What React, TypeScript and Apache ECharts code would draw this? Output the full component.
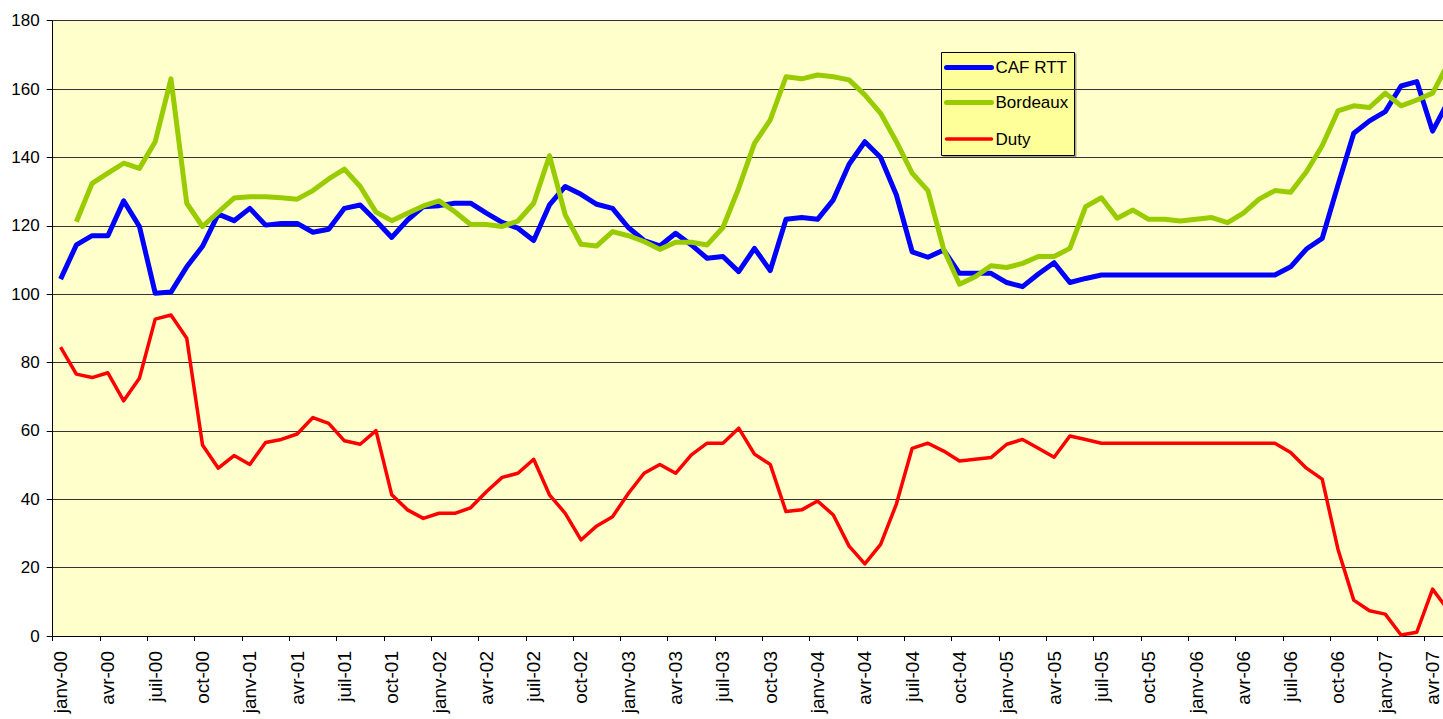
import React, { useEffect, useRef } from "react";
import * as echarts from "echarts";

const MONTHS = ["janv", "févr", "mars", "avr", "mai", "juin", "juil", "août", "sept", "oct", "nov", "déc"];
const YEARS = ["00", "01", "02", "03", "04", "05", "06", "07"];
const MONTHS_IN_LAST_YEAR = 5; // janv-07 .. mai-07

const categories: string[] = [];
YEARS.forEach((y, yi) => {
  const n = yi === YEARS.length - 1 ? MONTHS_IN_LAST_YEAR : 12;
  for (let m = 0; m < n; m++) categories.push(`${MONTHS[m]}-${y}`);
});

const cafRtt = [
  104.4, 114.4, 117.1, 117.1, 127.3, 119.8, 100.3, 100.6, 108, 114, 123.4, 121.5,
  125.1, 120.2, 120.7, 120.7, 118.1, 119, 125.1, 126.1, 121.5, 116.6, 121.7, 125.6,
  125.9, 126.6, 126.6, 123.7, 121, 119.3, 115.7, 126.1, 131.5, 129.2, 126.3, 125.1,
  119.5, 115.7, 114.1, 117.8, 114.4, 110.5, 111, 106.6, 113.4, 106.9, 121.9, 122.4,
  121.9, 127.6, 138, 144.6, 140, 129, 112.4, 110.8, 112.9, 106.1, 106.1, 106.1,
  103.4, 102.2, 105.9, 109.2, 103.4, 104.6, 105.6, 105.6, 105.6, 105.6, 105.6, 105.6,
  105.6, 105.6, 105.6, 105.6, 105.6, 105.6, 108, 113.2, 116.3, 131.9, 147.1, 150.7,
  153.4, 160.9, 162.2, 147.7, 156.4,
];

const bordeaux = [
  null, 121.2, 132.4, 135.4, 138.3, 136.8, 144.6, 163, 126.6, 119.8, 124, 128.1,
  128.5, 128.5, 128.2, 127.8, 130.3, 133.7, 136.6, 131.5, 124, 121.5, 123.7, 125.8,
  127.3, 124.1, 120.4, 120.4, 119.8, 121.4, 126.6, 140.5, 123.2, 114.6, 114.1, 118.3,
  117.1, 115.4, 113.1, 115.2, 115.2, 114.4, 119.5, 131, 144.1, 151, 163.6, 163,
  164.1, 163.6, 162.7, 158.3, 152.9, 144.6, 135.4, 130.3, 113.1, 102.9, 105.1, 108.3,
  107.8, 109, 111, 111, 113.4, 125.6, 128.2, 122.2, 124.6, 121.9, 121.9, 121.4,
  121.9, 122.4, 120.9, 123.7, 127.8, 130.3, 129.8, 135.8, 143.4, 153.6, 155.1, 154.6,
  158.8, 155.1, 156.8, 158.8, 167.6,
];

const duty = [
  84.5, 76.6, 75.6, 77, 68.8, 75.4, 92.7, 93.9, 87.1, 55.9, 49.1, 52.8,
  50.2, 56.6, 57.5, 59.1, 63.9, 62.2, 57.1, 56.1, 60.1, 41.3, 36.9, 34.4,
  35.9, 35.9, 37.5, 42.2, 46.4, 47.6, 51.7, 41.3, 35.9, 28.1, 32.2, 34.9,
  41.7, 47.6, 50.2, 47.6, 53, 56.4, 56.4, 60.8, 53.2, 50.2, 36.4, 36.9,
  39.5, 35.4, 26.3, 21.1, 26.8, 38.6, 54.9, 56.4, 54.1, 51.2, 51.7, 52.2,
  56.1, 57.5, 54.9, 52.3, 58.5, 57.5, 56.4, 56.4, 56.4, 56.4, 56.4, 56.4,
  56.4, 56.4, 56.4, 56.4, 56.4, 56.4, 53.7, 49.1, 45.9, 25.4, 10.5, 7.4,
  6.4, 0.3, 1.1, 13.7, 7.5,
];

const SERIES_NAMES = ["CAF RTT", "Bordeaux", "Duty"];
const SERIES_COLORS = ["#0000FF", "#99CC00", "#FF0000"];
const SERIES_WIDTHS = [5, 5, 3.5];
const Y_MIN = 0;
const Y_MAX = 180;
const Y_STEP = 20;

const CHART_W = 1470;
const CHART_H = 740;
const FONT = "'Liberation Sans', Arial, sans-serif";

export default function App() {
  const ref = useRef<HTMLDivElement>(null);

  useEffect(() => {
    if (!ref.current) return;
    const chart = echarts.init(ref.current, null, { renderer: "svg" });
    const gridLeft = 52.7;
    const gridTop = 20.7;
    const gridBottomY = 636;
    const band = 15.77;
    const gridRightX = gridLeft + band * categories.length;

    const legendRows = [15, 50, 86.5];
    const legendChildren: any[] = [
      {
        type: "rect",
        shape: { x: 0, y: 0, width: 133, height: 103 },
        style: {
          fill: "#FFFF99",
          stroke: "#000",
          lineWidth: 1,
          shadowColor: "rgba(0,0,0,0.35)",
          shadowOffsetX: 1.5,
          shadowOffsetY: 1.5,
          shadowBlur: 0,
        },
      },
    ];
    SERIES_NAMES.forEach((name, i) => {
      legendChildren.push({
        type: "line",
        shape: { x1: 5, y1: legendRows[i], x2: 50, y2: legendRows[i] },
        style: { stroke: SERIES_COLORS[i], lineWidth: SERIES_WIDTHS[i], lineCap: "round" },
      });
      legendChildren.push({
        type: "text",
        x: 54,
        y: legendRows[i],
        style: {
          text: name,
          fontSize: 17,
          fontFamily: FONT,
          fill: "#000",
          verticalAlign: "middle",
          align: "left",
        },
      });
    });

    chart.setOption({
      animation: false,
      backgroundColor: "#ffffff",
      textStyle: { fontFamily: FONT },
      grid: {
        left: gridLeft,
        top: gridTop,
        right: CHART_W - gridRightX,
        bottom: CHART_H - gridBottomY,
        show: true,
        backgroundColor: "#FFFFCC",
        borderWidth: 0,
      },
      graphic: [
        {
          type: "group",
          left: 941,
          top: 52,
          z: 100,
          children: legendChildren,
        },
      ],
      xAxis: {
        type: "category",
        data: categories,
        boundaryGap: true,
        axisLine: { show: true, lineStyle: { color: "#000", width: 1 } },
        axisTick: { show: true, interval: 2, length: 5, lineStyle: { color: "#000" } },
        axisLabel: {
          interval: 2,
          rotate: 90,
          fontSize: 19,
          color: "#000",
          fontFamily: FONT,
          margin: 15,
        },
        splitLine: { show: false },
      },
      yAxis: {
        type: "value",
        min: Y_MIN,
        max: Y_MAX,
        interval: Y_STEP,
        axisLine: { show: true, lineStyle: { color: "#000", width: 1 } },
        axisTick: { show: true, length: 6, lineStyle: { color: "#000" } },
        axisLabel: { fontSize: 17, color: "#000", fontFamily: FONT, margin: 13 },
        splitLine: { show: true, lineStyle: { color: "#333", width: 1 } },
      },
      series: [cafRtt, bordeaux, duty].map((d, i) => ({
        name: SERIES_NAMES[i],
        type: "line",
        data: d,
        symbol: "none",
        connectNulls: false,
        lineStyle: { color: SERIES_COLORS[i], width: SERIES_WIDTHS[i], join: "round" },
        itemStyle: { color: SERIES_COLORS[i] },
      })),
    });
    return () => chart.dispose();
  }, []);

  return (
    <div
      style={{
        position: "fixed",
        left: 0,
        top: 0,
        width: 1443,
        height: 719,
        overflow: "hidden",
        background: "#fff",
      }}
    >
      <div ref={ref} style={{ width: CHART_W, height: CHART_H }} />
    </div>
  );
}
